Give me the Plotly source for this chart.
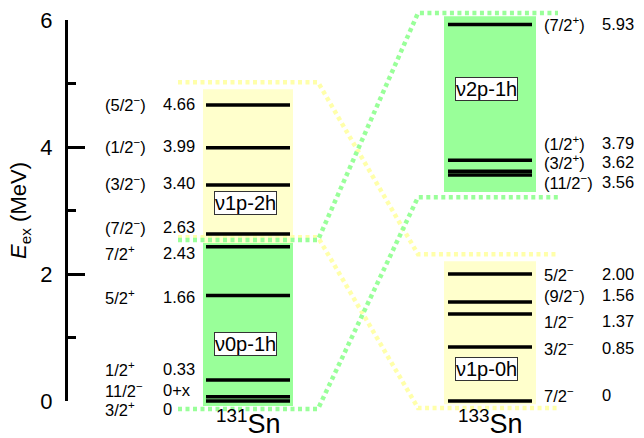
import plotly.graph_objects as go

# ---- level data (MeV) ----
sn131_spins = ["(5/2<sup>−</sup>)", "(1/2<sup>−</sup>)", "(3/2<sup>−</sup>)", "(7/2<sup>−</sup>)",
               "7/2<sup>+</sup>", "5/2<sup>+</sup>", "1/2<sup>+</sup>", "11/2<sup>−</sup>", "3/2<sup>+</sup>"]
sn131_labels = ["4.66", "3.99", "3.40", "2.63", "2.43", "1.66", "0.33", "0+x", "0"]
sn131_energy = [4.66, 3.99, 3.40, 2.63, 2.43, 1.66, 0.33, 0.065, 0.0]

sn133_spins = ["(7/2<sup>+</sup>)", "(1/2<sup>+</sup>)", "(3/2<sup>+</sup>)", "(11/2<sup>−</sup>)",
               "5/2<sup>−</sup>", "(9/2<sup>−</sup>)", "1/2<sup>−</sup>", "3/2<sup>−</sup>", "7/2<sup>−</sup>"]
sn133_labels = ["5.93", "3.79", "3.62", "3.56", "2.00", "1.56", "1.37", "0.85", "0"]
sn133_energy = [5.93, 3.79, 3.62, 3.56, 2.00, 1.56, 1.37, 0.85, 0.0]

# configuration bands: (name, low, high) in MeV
sn131_bands = [("ν0p-1h", -0.08, 2.49), ("ν1p-2h", 2.49, 4.91)]
sn133_bands = [("ν2p-1h", 3.29, 6.06), ("ν1p-0h", -0.05, 2.20)]
# dotted connectors: (low, high) edges on the 131Sn side and 133Sn side
green_edges_131 = (-0.125, 2.535)
green_edges_133 = (3.21, 6.11)
yellow_edges_131 = (2.58, 5.02)
yellow_edges_133 = (-0.11, 2.31)

nuclei = ["<sup>131</sup>Sn", "<sup>133</sup>Sn"]

# ---- layout geometry ----
W, H = 644, 438
PX_PER_MEV = 63.5
Y0_PX = 401  # pixel row of 0 MeV
ymin = -(H - Y0_PX) / PX_PER_MEV
ymax = Y0_PX / PX_PER_MEV

GREEN = "#99ff99"
YELLOW = "#ffffcc"
YELLOW_DOT = "#ffffaa"
FONT = "Liberation Sans, Arial, sans-serif"

left_box = (203, 293)
right_box = (444, 536)
left_line = (206, 290)
right_line = (448, 532)

# label placement (MeV, vertical position of each text row)
sn131_text_y = [4.68, 4.02, 3.43, 2.74, 2.33, 1.64, 0.50, 0.17, -0.13]
sn133_text_y = [5.94, 4.06, 3.76, 3.45, 2.00, 1.67, 1.26, 0.83, 0.09]

fig = go.Figure()

shapes = []
for (name, lo, hi), col in zip(sn131_bands, [GREEN, YELLOW]):
    shapes.append(dict(type="rect", xref="x", yref="y", x0=left_box[0], x1=left_box[1],
                       y0=lo, y1=hi, fillcolor=col, line=dict(width=0), layer="below"))
for (name, lo, hi), col in zip(sn133_bands, [GREEN, YELLOW]):
    shapes.append(dict(type="rect", xref="x", yref="y", x0=right_box[0], x1=right_box[1],
                       y0=lo, y1=hi, fillcolor=col, line=dict(width=0), layer="below"))

# dotted connectors between the two nuclei
xs_conn = [178, 318, 418, 558]
for e131, e133, col in [(yellow_edges_131, yellow_edges_133, YELLOW_DOT),
                        (green_edges_131, green_edges_133, GREEN)]:
    for a, b in zip(e131, e133):
        fig.add_trace(go.Scatter(x=xs_conn, y=[a, a, b, b], mode="lines",
                                 line=dict(color=col, width=4.5, dash="4px,3.5px"),
                                 hoverinfo="skip", showlegend=False))

# level lines
def level_trace(energies, x0, x1):
    xs, ys = [], []
    for e in energies:
        xs += [x0, x1, None]
        ys += [e, e, None]
    return go.Scatter(x=xs, y=ys, mode="lines", line=dict(color="black", width=3.5),
                      hoverinfo="skip", showlegend=False)

fig.add_trace(level_trace(sn131_energy, *left_line))
fig.add_trace(level_trace(sn133_energy, *right_line))

annotations = []
lab_font = dict(family=FONT, size=16.5, color="black")
for s, l, ty in zip(sn131_spins, sn131_labels, sn131_text_y):
    annotations.append(dict(x=103, y=ty, xref="x", yref="y", text=s, showarrow=False,
                            xanchor="left", yanchor="middle", font=lab_font))
    annotations.append(dict(x=161, y=ty, xref="x", yref="y", text=l, showarrow=False,
                            xanchor="left", yanchor="middle", font=lab_font))
for s, l, ty in zip(sn133_spins, sn133_labels, sn133_text_y):
    annotations.append(dict(x=542, y=ty, xref="x", yref="y", text=s, showarrow=False,
                            xanchor="left", yanchor="middle", font=lab_font))
    annotations.append(dict(x=600, y=ty, xref="x", yref="y", text=l, showarrow=False,
                            xanchor="left", yanchor="middle", font=lab_font))

# configuration tags
tag_pos = {"ν0p-1h": (245, 0.90), "ν1p-2h": (245, 3.12),
           "ν2p-1h": (486, 4.91), "ν1p-0h": (486, 0.50)}
for name, _, _ in sn131_bands + sn133_bands:
    x, y = tag_pos[name]
    annotations.append(dict(x=x, y=y, xref="x", yref="y", text=name, showarrow=False,
                            font=dict(family=FONT, size=20, color="black"),
                            bgcolor="white", bordercolor="#333333", borderwidth=1, borderpad=0))

# nucleus names
for nx, txt in zip([248, 490], nuclei):
    annotations.append(dict(x=nx, y=0, xref="x", yref="paper", text=txt, showarrow=False,
                            xanchor="center", yanchor="bottom", yshift=-3,
                            font=dict(family=FONT, size=27, color="black")))

# energy axis on its own subplot spanning 0-6 MeV
fig.add_trace(go.Scatter(x=[None], y=[None], xaxis="x2", yaxis="y2",
                         hoverinfo="skip", showlegend=False))

fig.update_layout(
    width=W, height=H, margin=dict(l=0, r=0, t=0, b=0, autoexpand=False),
    paper_bgcolor="white", plot_bgcolor="rgba(0,0,0,0)",
    shapes=shapes, annotations=annotations,
    xaxis=dict(range=[0, W], domain=[0, 1], visible=False, fixedrange=True, automargin=False),
    yaxis=dict(range=[ymin, ymax], domain=[0, 1], visible=False, fixedrange=True, automargin=False),
    xaxis2=dict(range=[0, 1], domain=[68 / W, 0.5], visible=False, anchor="y2", automargin=False),
    yaxis2=dict(range=[0, 6], domain=[(H - Y0_PX) / H, (H - 20) / H], anchor="x2",
                automargin=False,
                showline=True, linecolor="black", linewidth=3, mirror=False,
                showgrid=False, zeroline=False,
                ticks="inside", ticklen=17, tickwidth=3, tickcolor="black",
                tickvals=[0, 2, 4, 6], ticklabelstandoff=8,
                minor=dict(ticks="inside", ticklen=8, tickwidth=3, tickcolor="black",
                           tickvals=[1, 3, 5], showgrid=False),
                tickfont=dict(family=FONT, size=22, color="black"),
                title=dict(text="<i>E</i><sub>ex</sub> (MeV)", standoff=8,
                           font=dict(family=FONT, size=22, color="black"))),
)

fig.write_html("out.html")
